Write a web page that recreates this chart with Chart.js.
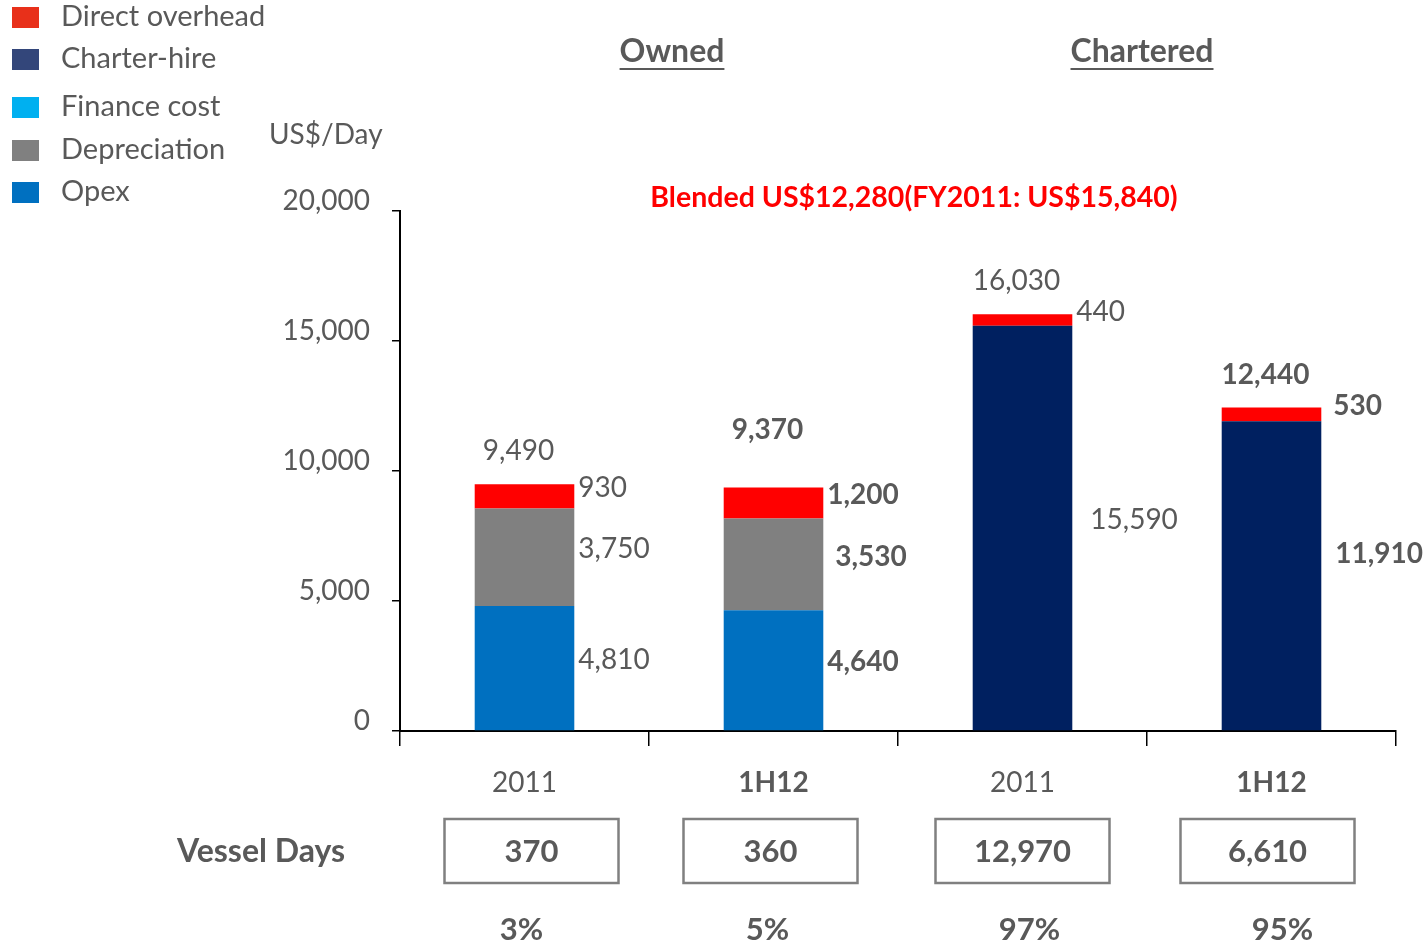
<!DOCTYPE html>
<html><head><meta charset="utf-8">
<script src="https://cdn.jsdelivr.net/npm/chart.js@4.4.0/dist/chart.umd.min.js"></script>
<style>html,body{margin:0;padding:0;background:#fff;}#wrap{position:relative;width:1426px;height:945px;}</style>
</head><body><div id="wrap"><canvas id="c" width="1426" height="945"></canvas></div>
<script>
// ---- data ----
const categories = ['2011', '1H12', '2011', '1H12'];
const opex = [4810, 4640, 0, 0];
const depreciation = [3750, 3530, 0, 0];
const financeCost = [0, 0, 0, 0];
const charterHire = [0, 0, 15590, 11910];
const directOverhead = [930, 1200, 440, 530];
const totals = [9490, 9370, 16030, 12440];
const vesselDays = ['370', '360', '12,970', '6,610'];
const shares = ['3%', '5%', '97%', '95%'];
const groupTitles = ['Owned', 'Chartered'];
const blendedNote = 'Blended US$12,280(FY2011: US$15,840)';
const yTickValues = [0, 5000, 10000, 15000, 20000];
const seriesNames = ['Opex', 'Depreciation', 'Finance cost', 'Charter-hire', 'Direct overhead'];

// ---- style ----
const FONT = 'Lato';
const GREY = '#595959';
const barColors = ['#0070C0', '#808080', '#00B0F0', '#002060', '#FF0000'];
const legendColors = ['#0070C0', '#808080', '#00B0F0', '#33467A', '#E8301A'];
const legendRows = [17, 59, 107, 150, 192];
const boxNudge = [7, -3, 0, -4];
const shareNudge = [-3, -6, 7, 11];
const boldCat = i => i % 2 === 1;
const fmt = v => v.toLocaleString('en-US');

const seriesValues = [opex, depreciation, financeCost, charterHire, directOverhead];

const annotate = {
  id: 'annotate',
  afterDraw(chart) {
    const ctx = chart.ctx;
    const xs = chart.scales.x;
    ctx.save();
    ctx.fillStyle = GREY;
    ctx.textBaseline = 'middle';

    // legend (top to bottom reversed stack order)
    const order = [4, 3, 2, 1, 0];
    order.forEach((d, k) => {
      const cy = legendRows[k];
      ctx.fillStyle = legendColors[d];
      ctx.fillRect(12, cy - 10, 27, 21);
      ctx.fillStyle = GREY;
      ctx.font = `29px ${FONT}`;
      ctx.textAlign = 'left';
      ctx.fillText(seriesNames[d], 61, cy);
    });

    // unit
    ctx.font = `28px ${FONT}`;
    ctx.textAlign = 'left';
    ctx.fillText('US$/Day', 269, 135);

    // group titles
    ctx.font = `bold 32px ${FONT}`;
    ctx.textAlign = 'center';
    [[groupTitles[0], 672], [groupTitles[1], 1142]].forEach(([t, cx]) => {
      ctx.fillText(t, cx, 52);
      const w = ctx.measureText(t).width;
      ctx.fillRect(cx - w / 2, 68, w, 2);
    });

    // blended note
    ctx.fillStyle = '#FF0000';
    ctx.font = `bold 28.5px ${FONT}`;
    ctx.fillText(blendedNote, 914, 198);
    ctx.fillStyle = GREY;

    // segment labels
    const nudge = {'3-2': [14, 0], '3-3': [10, -14], '1-1': [8, 0], '4-3': [8, 0]};
    seriesValues.forEach((vals, d) => {
      const meta = chart.getDatasetMeta(d);
      vals.forEach((v, i) => {
        if (!v) return;
        const bar = meta.data[i];
        const n = nudge[d + '-' + i] || [0, 0];
        ctx.font = `${boldCat(i) ? 'bold ' : ''}28px ${FONT}`;
        ctx.textAlign = 'left';
        ctx.fillText(fmt(v), bar.x + bar.width / 2 + 4 + n[0], (bar.y + bar.base) / 2 - 8 + n[1]);
      });
    });

    // totals
    const ys = chart.scales.y;
    totals.forEach((t, i) => {
      const cx = xs.getPixelForValue(i);
      ctx.font = `${boldCat(i) ? 'bold ' : ''}28px ${FONT}`;
      ctx.textAlign = 'center';
      const dy = i === 1 ? 57 : 33;
      ctx.fillText(fmt(t), cx - 6, ys.getPixelForValue(t) - dy);
    });

    // vessel days
    ctx.font = `bold 32px ${FONT}`;
    ctx.textAlign = 'center';
    ctx.fillText('Vessel Days', 261, 852);
    vesselDays.forEach((v, i) => {
      const cx = xs.getPixelForValue(i);
      const bx = cx + boxNudge[i];
      ctx.strokeStyle = '#808080';
      ctx.lineWidth = 2.5;
      ctx.strokeRect(bx - 87, 819, 174, 64);
      ctx.font = `bold 31px ${FONT}`;
      ctx.fillText(v, bx, 852);
      ctx.fillText(shares[i], cx + shareNudge[i], 930);
    });
    ctx.restore();
  }
};

new Chart(document.getElementById('c'), {
  type: 'bar',
  data: {
    labels: categories,
    datasets: seriesValues.map((vals, d) => ({
      label: seriesNames[d],
      data: vals,
      backgroundColor: barColors[d],
      borderWidth: 0,
      categoryPercentage: 1.0,
      barPercentage: 0.4
    }))
  },
  options: {
    responsive: false,
    animation: false,
    layout: {padding: {left: 250, right: 30, top: 211, bottom: 114}},
    plugins: {legend: {display: false}, tooltip: {enabled: false}},
    scales: {
      x: {
        stacked: true,
        grid: {display: true, drawOnChartArea: false, drawTicks: true, tickLength: 15, color: '#000', lineWidth: 1.5, offset: true},
        border: {display: true, color: '#000', width: 2},
        ticks: {
          color: GREY, padding: 20, maxRotation: 0,
          font: c => ({family: FONT, size: 28, weight: boldCat(c.index) ? 'bold' : 'normal'})
        },
        afterFit: s => { s.height = 100; }
      },
      y: {
        stacked: true, min: 0, max: 20000,
        afterBuildTicks: s => { s.ticks = yTickValues.map(v => ({value: v})); },
        ticks: {color: GREY, padding: 22, labelOffset: -10, font: {family: FONT, size: 28}, callback: v => fmt(v)},
        grid: {drawOnChartArea: false, drawTicks: true, tickLength: 8, color: '#000', lineWidth: 1.5},
        border: {display: true, color: '#000', width: 2},
        afterFit: s => { s.width = 150; }
      }
    }
  },
  plugins: [annotate]
});
</script></body></html>
